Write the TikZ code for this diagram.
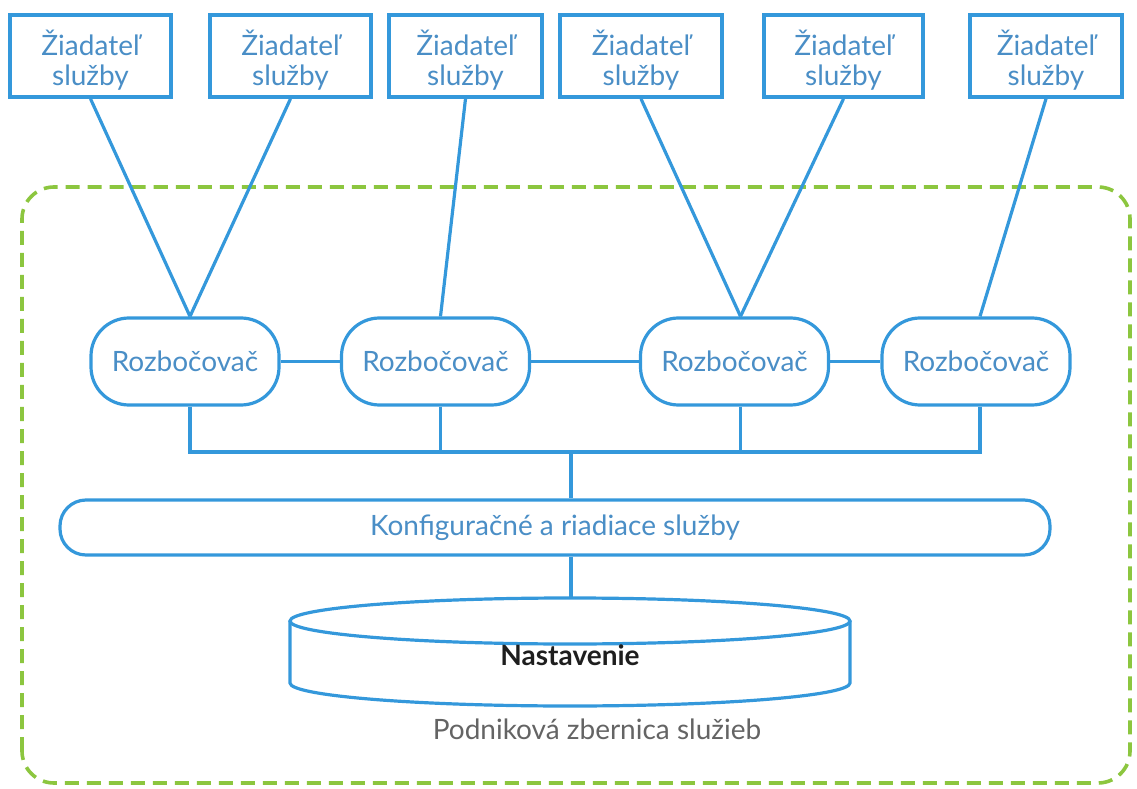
\documentclass[tikz,border=0pt]{standalone}
\usepackage{fontspec}
\setmainfont{Lato}
\usetikzlibrary{calc}
\definecolor{esbblue}{RGB}{52,152,219}
\definecolor{esbtext}{RGB}{74,142,198}
\definecolor{esbgreen}{RGB}{140,198,63}
\definecolor{esbgray}{RGB}{100,100,100}
% two-line requester label, with a strut that lowers it a little in its box
\newcommand\requesterlabel{\rule{0pt}{33pt}Žiadateľ\\služby}
\begin{document}
\begin{tikzpicture}[x=1pt,y=1pt,
  reqbox/.style={draw=esbblue, line width=3.6pt, minimum height=82pt,
    align=center, text=esbtext, font=\fontsize{28}{30}\selectfont, inner sep=0pt},
  hubbox/.style={draw=esbblue, line width=3.2pt, rounded corners=38pt,
    minimum width=188pt, minimum height=87pt, text=esbtext,
    font=\fontsize{28}{30}\selectfont, inner sep=0pt},
  wire/.style={draw=esbblue, line width=3.2pt},
  zone/.style={draw=esbgreen, line width=3.6pt, dash pattern=on 14pt off 8pt, rounded corners=32pt}
]
\useasboundingbox (0,0) rectangle (1137,788);

% enterprise service bus boundary
\draw[zone] (22,5) rectangle (1130,601);

% service requesters
\node[reqbox, minimum width=161pt] (r1) at (90.5,732) {\requesterlabel};
\node[reqbox, minimum width=161pt] (r2) at (290.5,732) {\requesterlabel};
\node[reqbox, minimum width=153pt] (r3) at (465.5,732) {\requesterlabel};
\node[reqbox, minimum width=162pt] (r4) at (641,732) {\requesterlabel};
\node[reqbox, minimum width=159pt] (r5) at (843.5,732) {\requesterlabel};
\node[reqbox, minimum width=152pt] (r6) at (1046,732) {\requesterlabel};

% hubs
\node[hubbox] (h1) at (185,426.5) {Rozbočovač};
\node[hubbox] (h2) at (435.5,426.5) {Rozbočovač};
\node[hubbox] (h3) at (734.5,426.5) {Rozbočovač};
\node[hubbox] (h4) at (976,426.5) {Rozbočovač};

% configuration and management services
\node[draw=esbblue, line width=3.2pt, rounded corners=26pt, minimum width=990pt,
  minimum height=55pt, text=esbtext, font=\fontsize{28}{30}\selectfont, inner sep=0pt]
  (cfg) at (555,260.5) {Konfiguračné a riadiace služby};

% requesters to hubs
\draw[wire] (r1.south) -- ([xshift=5pt]h1.north);
\draw[wire] (r2.south) -- ([xshift=5pt]h1.north);
\draw[wire] (r3.south) -- ([xshift=5pt]h2.north);
\draw[wire] (r4.south) -- ([xshift=6pt]h3.north);
\draw[wire] (r5.south) -- ([xshift=6pt]h3.north);
\draw[wire] (r6.south) -- ([xshift=4pt]h4.north);

% hub chain
\draw[wire] (h1.east) -- (h2.west);
\draw[wire] (h2.east) -- (h3.west);
\draw[wire] (h3.east) -- (h4.west);

% bus below the hubs
\coordinate (bus) at (571,336);
\draw[wire] ([xshift=5pt]h1.south) |- (bus);
\draw[wire] ([xshift=4pt]h4.south) |- (bus);
\draw[wire] ([xshift=5pt]h2.south) -- ([xshift=5pt]h2.south |- bus);
\draw[wire] ([xshift=6pt]h3.south) -- ([xshift=6pt]h3.south |- bus);
\draw[wire] (bus) -- (cfg.north -| bus);

% settings store (cylinder)
\coordinate (dbtop) at (571,190);
\draw[wire] (cfg.south -| dbtop) -- (dbtop);
\draw[esbblue, line width=3.2pt] (570,167) ellipse [x radius=280pt, y radius=23pt];
\draw[esbblue, line width=3.2pt] (290,167) -- (290,105)
  arc[start angle=180, end angle=360, x radius=280pt, y radius=23pt] -- (850,167);
\node[font=\bfseries\fontsize{28}{30}\selectfont, text={rgb,255:red,30;green,30;blue,30}] (db) at (570,133) {Nastavenie};
\node[font=\fontsize{28}{30}\selectfont, text=esbgray] (esb) at (597,59) {Podniková zbernica služieb};
\end{tikzpicture}
\end{document}
